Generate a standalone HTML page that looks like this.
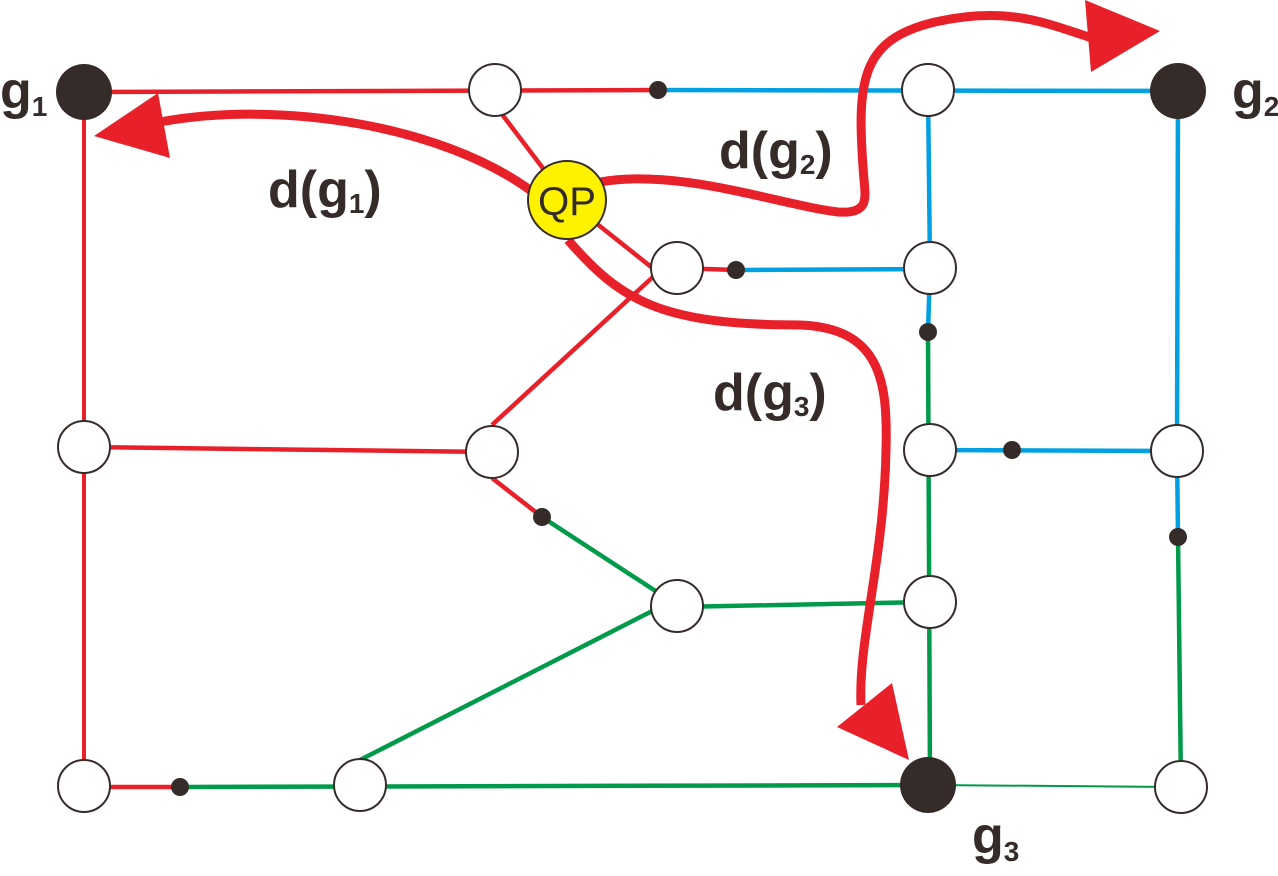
<!DOCTYPE html>
<html><head><meta charset="utf-8"><style>
html,body{margin:0;padding:0;background:#fff;}
svg{display:block;}
text{font-family:"Liberation Sans",Arial,sans-serif;fill:#352c2a;}
</style></head><body>
<svg width="1278" height="876" viewBox="0 0 1278 876">
<g fill="none" stroke-linecap="butt">
 <g stroke="#e8202a" stroke-width="4.5">
  <line x1="84" y1="92" x2="658" y2="90"/>
  <line x1="84" y1="92" x2="84" y2="785" stroke-width="4"/>
  <line x1="84" y1="447" x2="492" y2="452"/>
  <line x1="84" y1="787" x2="180" y2="787"/>
  <line x1="495" y1="105" x2="567" y2="200"/>
  <line x1="567" y1="200" x2="655" y2="270"/>
  <line x1="677" y1="268" x2="736" y2="270"/>
  <line x1="492" y1="425" x2="655" y2="275"/>
  <line x1="492" y1="478" x2="542" y2="517"/>
 </g>
 <g stroke="#00a0e3" stroke-width="4.5">
  <line x1="658" y1="90" x2="1178" y2="91"/>
  <line x1="928" y1="90" x2="930" y2="268"/>
  <line x1="736" y1="270" x2="930" y2="269"/>
  <line x1="930" y1="268" x2="928" y2="332"/>
  <line x1="1178" y1="91" x2="1177" y2="451"/>
  <line x1="930" y1="450" x2="1177" y2="451"/>
  <line x1="1177" y1="451" x2="1178" y2="537"/>
 </g>
 <g stroke="#009a4b" stroke-width="4.5">
  <line x1="928" y1="332" x2="930" y2="785"/>
  <line x1="542" y1="517" x2="677" y2="605"/>
  <line x1="677" y1="607" x2="930" y2="602"/>
  <line x1="660" y1="607" x2="360" y2="760"/>
  <line x1="180" y1="787" x2="930" y2="785"/>
  <line x1="1178" y1="537" x2="1181" y2="787"/>
  <line x1="930" y1="785" x2="1181" y2="787" stroke-width="2"/>
 </g>
</g>
<g fill="#fff" stroke="#352c2a" stroke-width="2">
 <circle cx="495" cy="90" r="26"/>
 <circle cx="928" cy="90" r="26"/>
 <circle cx="677" cy="268" r="26"/>
 <circle cx="930" cy="268" r="26"/>
 <circle cx="84" cy="447" r="26"/>
 <circle cx="492" cy="452" r="26"/>
 <circle cx="930" cy="450" r="26"/>
 <circle cx="1177" cy="451" r="26"/>
 <circle cx="677" cy="606" r="26"/>
 <circle cx="930" cy="602" r="26"/>
 <circle cx="84" cy="786" r="26"/>
 <circle cx="360" cy="785" r="26"/>
 <circle cx="1181" cy="787" r="26"/>
</g>
<g fill="#352c2a">
 <circle cx="658" cy="90" r="9"/>
 <circle cx="736" cy="270" r="9"/>
 <circle cx="928" cy="332" r="9"/>
 <circle cx="1012" cy="450" r="9"/>
 <circle cx="542" cy="517" r="9"/>
 <circle cx="1178" cy="537" r="9"/>
 <circle cx="180" cy="787" r="9"/>
 <circle cx="84" cy="92" r="28"/>
 <circle cx="1178" cy="91" r="28"/>
 <circle cx="928" cy="785" r="28"/>
</g>
<g fill="none" stroke="#e8202a" stroke-width="9">
 <path d="M530,190 C440,125 280,100 160,122"/>
 <path d="M600,182 C680,168 780,205 838,212 C868,214 866,200 864,180 C856,80 860,40 935,22 C1010,5 1050,25 1092,38"/>
 <path d="M568,240 C620,300 660,325 800,325 C880,328 888,380 886,450 C884,560 858,640 861,705"/>
</g>
<g fill="#e8202a">
 <polygon points="94,136 158,93 170,158"/>
 <polygon points="1085,0 1160,31 1091,72"/>
 <polygon points="837,727 892,683 909,760"/>
</g>
<circle cx="567" cy="200" r="39" fill="#fff200" stroke="#352c2a" stroke-width="2"/>
<text x="567" y="215" font-size="40" text-anchor="middle" textLength="58" lengthAdjust="spacingAndGlyphs">QP</text>
<g font-weight="bold">
 <text x="268" y="207" font-size="52">d(g<tspan font-size="28" dy="6">1</tspan><tspan dy="-6">)</tspan></text>
 <text x="719" y="168" font-size="52">d(g<tspan font-size="28" dy="6">2</tspan><tspan dy="-6">)</tspan></text>
 <text x="713" y="410" font-size="52">d(g<tspan font-size="28" dy="6">3</tspan><tspan dy="-6">)</tspan></text>
 <text x="0" y="108" font-size="52">g<tspan font-size="28" dy="8">1</tspan></text>
 <text x="1232" y="108" font-size="52">g<tspan font-size="28" dy="8">2</tspan></text>
 <text x="972" y="853" font-size="52">g<tspan font-size="28" dy="8">3</tspan></text>
</g>
</svg>
</body></html>
